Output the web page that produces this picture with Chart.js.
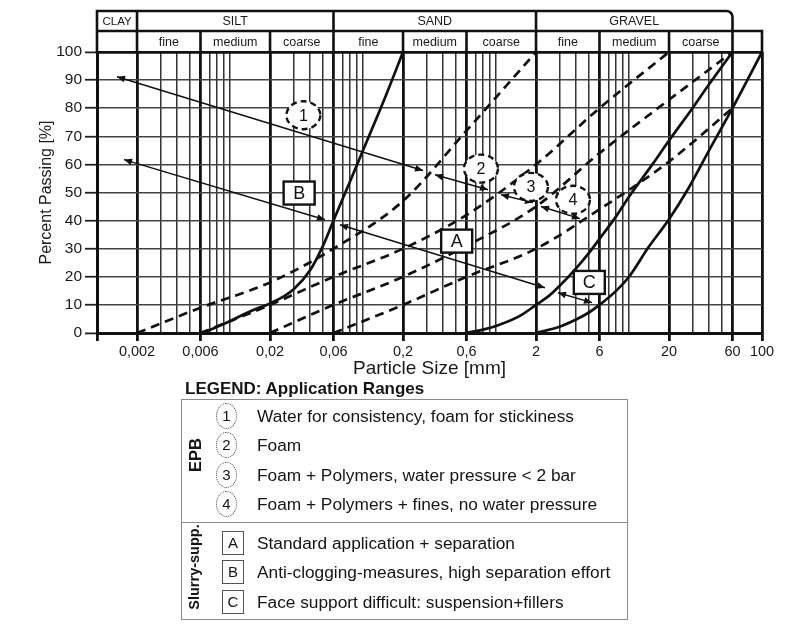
<!DOCTYPE html>
<html><head><meta charset="utf-8">
<script src="https://cdn.jsdelivr.net/npm/chart.js@4.4.1/dist/chart.umd.min.js"></script>
<style>
html,body{margin:0;padding:0;background:#fff;}
body{width:795px;height:630px;position:relative;overflow:hidden;font-family:"Liberation Sans",Arial,Helvetica,sans-serif;color:#151515;}
#chartBox{position:absolute;left:0;top:0;width:795px;height:380px;}
.lg-title{position:absolute;left:185px;top:379px;font-weight:bold;font-size:17px;line-height:19px;white-space:nowrap}
.lg-box{position:absolute;left:181px;top:399px;width:447px;height:221px;border:1.3px solid #8a8a8a;box-sizing:border-box}
.lg-div{position:absolute;left:181px;top:522px;width:447px;height:0;border-top:1.3px solid #8a8a8a}
.row{position:absolute;left:257px;font-size:17.3px;line-height:20px;white-space:nowrap}
.circ{position:absolute;width:21px;height:26px;border:1px dotted #444;border-radius:50%;box-sizing:border-box;font-size:15px;line-height:24px;text-align:center}
.sq{position:absolute;width:22px;height:24px;border:1.3px solid #555;box-sizing:border-box;font-size:15px;line-height:22px;text-align:center}
.vlab{position:absolute;font-weight:bold;transform:translate(-50%,-50%) rotate(-90deg);white-space:nowrap}
</style></head>
<body>
<div id="chartBox"><canvas id="c"></canvas></div>
<div id="legend"></div>
<script>
// ---------- data ----------
const xTitle = 'Particle Size [mm]';
const yTitle = 'Percent Passing [%]';
const majorTicks = [0.001,0.002,0.006,0.02,0.06,0.2,0.6,2,6,20,60,100];
const tickLabels = ['','0,002','0,006','0,02','0,06','0,2','0,6','2','6','20','60','100'];
const minorTicks = [0.003,0.004,0.005,0.007,0.008,0.009,0.01,
                    0.03,0.04,0.05,0.07,0.08,0.09,0.1,
                    0.3,0.4,0.5,0.7,0.8,0.9,1,
                    3,4,5,7,8,9,10,
                    30,40,50];
const classBounds = [0.001,0.002,0.06,2,60];
const classLabels = ['CLAY','SILT','SAND','GRAVEL'];
const subLabels = ['','fine','medium','coarse','fine','medium','coarse','fine','medium','coarse',''];

// slurry boundary curves (solid)
const s1X = [0.006,0.007,0.008,0.01,0.0125,0.015,0.02,0.03,0.04,0.05,0.06,0.08,0.1,0.15,0.2];
const s1Y = [0,1,2.2,4.2,6.5,8.2,10.5,15.5,22.3,31,40,54,65,85,100];
const s2X = [0.6,0.8,1,1.5,2,2.5,3,4,5,6,8,10,15,20,30,40,60];
const s2Y = [0,1.2,2.5,6,10,13.2,16.7,23,28.5,33.5,41.5,48.5,60,68.5,80,88.5,100];
const s3X = [2,3,4,5,6,8,10,14,20,28,40,60,100];
const s3Y = [0,2.2,4.8,7.3,10,15,20,30.5,40.5,51.5,65,80,100];
// EPB boundary curves (dashed)
const d1X = [0.002,0.006,0.02,0.06,0.2,0.6,2];
const d1Y = [0,9,18,30,47,72,100];
const d2X = [0.006,0.02,0.06,0.2,0.6,2,6,20];
const d2Y = [0,10,20,30,42,60,80,100];
const d3X = [0.02,0.06,0.2,0.6,2,6,20,60];
const d3Y = [0,10,20,31,45,64,83,100];
const d4X = [0.06,0.2,0.6,2,6,20,60];
const d4Y = [0,10,20,30,44,61,80];

// range arrows (from -> to, in mm / %)
const arrowFromX = [0.001414,0.001596,0.0671,0.3478,1.09,2.179,2.924];
const arrowFromY = [91.2,61.7,38.5,56.3,49.2,45.0,14.3];
const arrowToX   = [0.2826,0.05179,2.333,0.8706,1.897,4.28,5.27];
const arrowToY   = [57.8,40.3,16.1,51.0,46.4,40.7,10.8];
// zone markers
const zoneNums = ['1','2','3','4'];
const zoneNumX = [0.0356,0.771,1.832,3.79];
const zoneNumY = [77.5,58.5,52.0,47.4];
const zoneLets = ['A','B','C'];
const zoneLetX = [0.5062,0.0331,5.03];
const zoneLetY = [32.7,49.8,18.0];

// legend
const legendTitle = 'LEGEND: Application Ranges';
const epbGroup = 'EPB';
const epbKeys = ['1','2','3','4'];
const epbTexts = ['Water for consistency, foam for stickiness','Foam','Foam + Polymers, water pressure < 2 bar','Foam + Polymers + fines, no water pressure'];
const slurryGroup = 'Slurry-supp.';
const slurryKeys = ['A','B','C'];
const slurryTexts = ['Standard application + separation','Anti-clogging-measures, high separation effort','Face support difficult: suspension+fillers'];

// ---------- rendering ----------
const F = '"Liberation Sans", Arial, Helvetica, sans-serif';
const allTicks = majorTicks.concat(minorTicks).sort((a,b)=>a-b);
const isMajor = v => majorTicks.some(m => Math.abs(Math.log10(m) - Math.log10(v)) < 1e-6);
const pts = (xs, ys) => xs.map((x,i)=>({x:x, y:ys[i]}));

function arrowHead(ctx, x1, y1, x2, y2){
  const a = Math.atan2(y2-y1, x2-x1), L = 8, W = 3.4;
  ctx.beginPath();
  ctx.moveTo(x2, y2);
  ctx.lineTo(x2 - L*Math.cos(a) + W*Math.sin(a), y2 - L*Math.sin(a) - W*Math.cos(a));
  ctx.lineTo(x2 - L*Math.cos(a) - W*Math.sin(a), y2 - L*Math.sin(a) + W*Math.cos(a));
  ctx.closePath(); ctx.fill();
}

const annotationPlugin = {
  id:'zones',
  afterDatasetsDraw(chart){
    const ctx = chart.ctx, xs = chart.scales.x, ys = chart.scales.y;
    ctx.save();
    ctx.strokeStyle = '#111'; ctx.fillStyle = '#111'; ctx.lineWidth = 1.5;
    for (let i=0;i<arrowFromX.length;i++){
      const x1 = xs.getPixelForValue(arrowFromX[i]), y1 = ys.getPixelForValue(arrowFromY[i]);
      const x2 = xs.getPixelForValue(arrowToX[i]), y2 = ys.getPixelForValue(arrowToY[i]);
      ctx.beginPath(); ctx.moveTo(x1,y1); ctx.lineTo(x2,y2); ctx.stroke();
      arrowHead(ctx, x1, y1, x2, y2); arrowHead(ctx, x2, y2, x1, y1);
    }
    ctx.textAlign = 'center'; ctx.textBaseline = 'middle';
    for (let i=0;i<zoneNums.length;i++){
      const cx = xs.getPixelForValue(zoneNumX[i]), cy = ys.getPixelForValue(zoneNumY[i]);
      ctx.beginPath(); ctx.ellipse(cx, cy, 17, 14, 0, 0, Math.PI*2);
      ctx.fillStyle = '#fff'; ctx.fill();
      ctx.setLineDash([6,4]); ctx.lineWidth = 2.4; ctx.strokeStyle = '#111'; ctx.stroke();
      ctx.setLineDash([]);
      ctx.fillStyle = '#111'; ctx.font = '16px ' + F; ctx.fillText(zoneNums[i], cx, cy+1);
    }
    for (let i=0;i<zoneLets.length;i++){
      const cx = xs.getPixelForValue(zoneLetX[i]), cy = ys.getPixelForValue(zoneLetY[i]);
      ctx.fillStyle = '#fff'; ctx.fillRect(cx-15.5, cy-11.5, 31, 23);
      ctx.lineWidth = 2.4; ctx.strokeStyle = '#111'; ctx.strokeRect(cx-15.5, cy-11.5, 31, 23);
      ctx.fillStyle = '#111'; ctx.font = '18px ' + F; ctx.fillText(zoneLets[i], cx, cy+1);
    }
    ctx.restore();
  }
};

const headerPlugin = {
  id:'header',
  afterDraw(chart){
    const ctx = chart.ctx, xs = chart.scales.x, top = chart.chartArea.top;
    const yA = top - 41, yB = top - 21;
    const px = v => xs.getPixelForValue(v);
    const xL = px(classBounds[0]), xR1 = px(classBounds[classBounds.length-1]), xR2 = px(majorTicks[majorTicks.length-1]);
    ctx.save();
    ctx.strokeStyle = '#111'; ctx.lineWidth = 2.6; ctx.lineCap = 'square';
    ctx.beginPath();
    ctx.moveTo(xL, top); ctx.lineTo(xL, yA); ctx.lineTo(xR1-6, yA);
    ctx.arcTo(xR1, yA, xR1, yA+6, 6); ctx.lineTo(xR1, yB);
    ctx.moveTo(xL, yB); ctx.lineTo(xR2, yB); ctx.lineTo(xR2, top);
    for (let i=1;i<classBounds.length-1;i++){ const x = px(classBounds[i]); ctx.moveTo(x, yA); ctx.lineTo(x, yB); }
    for (let i=1;i<majorTicks.length-1;i++){ const x = px(majorTicks[i]); ctx.moveTo(x, yB); ctx.lineTo(x, top); }
    ctx.stroke();
    ctx.fillStyle = '#1a1a1a'; ctx.textAlign = 'center'; ctx.textBaseline = 'middle';
    for (let i=0;i<classLabels.length;i++){
      ctx.font = (i===0 ? '11.5px ' : '12.5px ') + F;
      ctx.fillText(classLabels[i], (px(classBounds[i]) + px(classBounds[i+1]))/2, (yA+yB)/2 + 1);
    }
    ctx.font = '12.5px ' + F;
    for (let i=0;i<subLabels.length;i++){
      if (!subLabels[i]) continue;
      ctx.fillText(subLabels[i], (px(majorTicks[i]) + px(majorTicks[i+1]))/2, (yB+top)/2 + 1);
    }
    ctx.restore();
  }
};

const solid = {borderDash:[]}, dashed = {borderDash:[9,6]};
const datasets = [
  Object.assign({data:pts(s1X,s1Y)}, solid),
  Object.assign({data:pts(s2X,s2Y)}, solid),
  Object.assign({data:pts(s3X,s3Y)}, solid),
  Object.assign({data:pts(d1X,d1Y)}, dashed),
  Object.assign({data:pts(d2X,d2Y)}, dashed),
  Object.assign({data:pts(d3X,d3Y)}, dashed),
  Object.assign({data:pts(d4X,d4Y)}, dashed)
];

new Chart(document.getElementById('c'), {
  type:'line',
  data:{datasets:datasets},
  options:{
    responsive:true, maintainAspectRatio:false, animation:false, devicePixelRatio:1,
    layout:{padding:{left:0,right:33,top:52,bottom:0}},
    plugins:{legend:{display:false}, tooltip:{enabled:false}},
    elements:{point:{radius:0}, line:{borderWidth:2.7, borderColor:'#111', cubicInterpolationMode:'monotone', fill:false}},
    scales:{
      x:{type:'logarithmic', min:0.001, max:100,
        afterBuildTicks(s){ s.ticks = allTicks.map(v=>({value:v})); },
        afterFit(s){ s.height = 47; },
        ticks:{autoSkip:false, maxRotation:0, minRotation:0, padding:2, color:'#1a1a1a', font:{size:14.5, family:F},
          callback(v){ const i = majorTicks.findIndex(m=>Math.abs(Math.log10(m)-Math.log10(v))<1e-6); return i>=0 ? tickLabels[i] : ''; }},
        grid:{color:c=>isMajor(c.tick.value)?'#111':'#333', lineWidth:c=>isMajor(c.tick.value)?2.8:1.5,
          tickLength:8, tickColor:c=>isMajor(c.tick.value)?'#111':'rgba(0,0,0,0)', tickWidth:2.8},
        border:{display:true, width:3, color:'#111'},
        title:{display:true, text:xTitle, font:{size:19, family:F}, color:'#1a1a1a', padding:{top:0,bottom:0}}
      },
      y:{type:'linear', min:0, max:100,
        afterFit(s){ s.width = 97; },
        ticks:{stepSize:10, padding:3, color:'#1a1a1a', font:{size:15.5, family:F}},
        grid:{color:c=>(c.tick.value===0||c.tick.value===100)?'#111':'#444',
          lineWidth:c=>(c.tick.value===0||c.tick.value===100)?2.8:1.5, tickLength:12, tickColor:'#222', tickWidth:1.8},
        border:{display:true, width:3, color:'#111'},
        title:{display:true, text:yTitle, font:{size:16, family:F}, color:'#1a1a1a', padding:{top:37,bottom:0}}
      }
    }
  },
  plugins:[annotationPlugin, headerPlugin]
});

// ---------- legend (HTML text) ----------
(function(){
  const L = document.getElementById('legend');
  let h = '<div class="lg-title">'+legendTitle+'</div><div class="lg-box"></div><div class="lg-div"></div>';
  const epbY = [416,445,475,504], slY = [543,572,602];
  const esc = s => s.replace(/&/g,'&amp;').replace(/</g,'&lt;');
  epbKeys.forEach((k,i)=>{
    h += '<div class="circ" style="left:216px;top:'+(epbY[i]-13)+'px">'+k+'</div>';
    h += '<div class="row" style="top:'+(epbY[i]-10)+'px">'+esc(epbTexts[i])+'</div>';
  });
  slurryKeys.forEach((k,i)=>{
    h += '<div class="sq" style="left:222px;top:'+(slY[i]-12)+'px">'+k+'</div>';
    h += '<div class="row" style="top:'+(slY[i]-10)+'px">'+esc(slurryTexts[i])+'</div>';
  });
  h += '<div class="vlab" style="left:195px;top:455px;font-size:16.5px">'+epbGroup+'</div>';
  h += '<div class="vlab" style="left:194px;top:567px;font-size:14.5px">'+slurryGroup+'</div>';
  L.innerHTML = h;
})();
</script>
</body></html>
